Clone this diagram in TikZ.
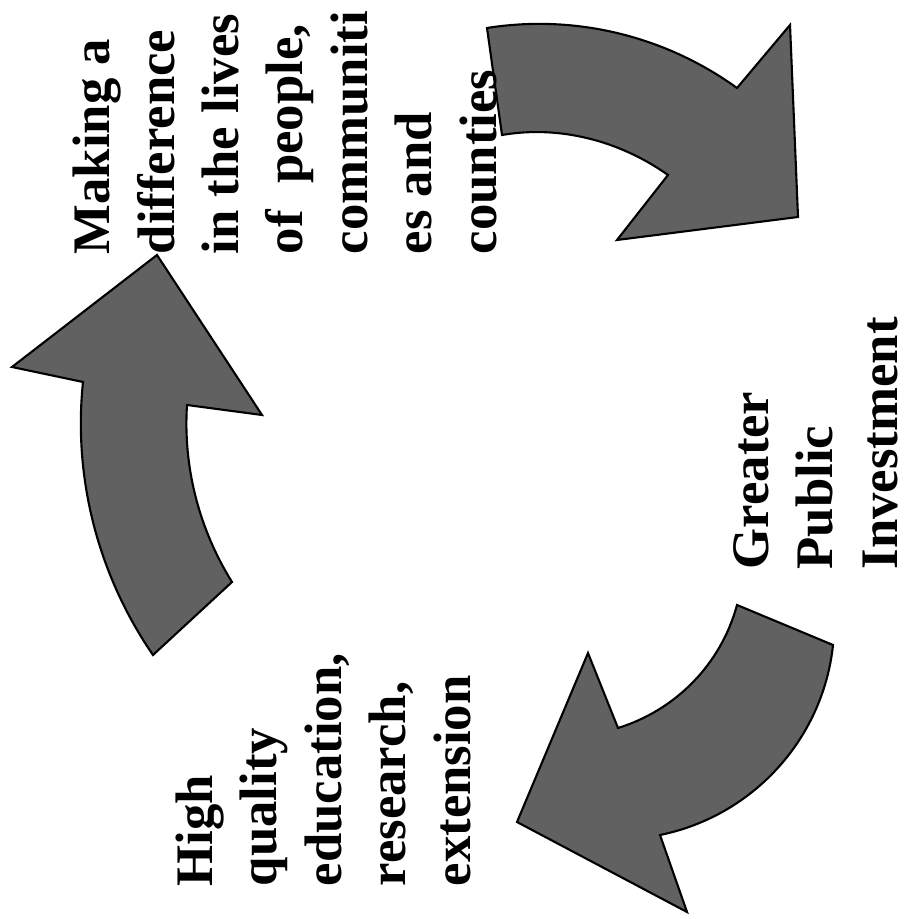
\documentclass[tikz,border=0pt]{standalone}
\usepackage{fontspec}
\setmainfont{Liberation Serif}
\usepackage{tikz}

\begin{document}
\begin{tikzpicture}[x=0.01cm, y=-0.01cm,
    cyclearrow/.style={draw=black, fill=black!62, line width=0.6pt, line join=miter},
    cyclelabel/.style={rotate=90, anchor=base west, inner sep=0pt, align=left,
      font=\bfseries\fontsize{15}{18.3}\selectfont}]
    \useasboundingbox (0,0) rectangle (906,919);

    % Left arrow, pointing up
    \filldraw[cyclearrow] (153,655) .. controls (98,575) and (73,478) .. (83,382)
        -- (12,367) -- (157,255) -- (262,415) -- (187,405)
        .. controls (183,467) and (199,529) .. (232,582) -- cycle;

    % Top arrow, pointing down right
    \filldraw[cyclearrow] (487,28) .. controls (575,14) and (665,36) .. (737,88)
        -- (790,25) -- (798,217) -- (617,240) -- (668,175)
        .. controls (620,141) and (560,125) .. (502,135) -- cycle;

    % Bottom arrow, pointing down left
    \filldraw[cyclearrow] (737,605) -- (833,645)
        .. controls (823,739) and (753,816) .. (660,835)
        -- (687,912) -- (517,822) -- (588,653) -- (618,728)
        .. controls (676,710) and (721,664) .. (737,605) -- cycle;

    % Labels (base = baseline of the last line)
    \node[cyclelabel] (making) at (496,255)
        {Making a\\difference\\in the lives\\of\ \ people,\\communiti\\es and\\counties};
    \node[cyclelabel] (quality) at (470,887)
        {High\\quality\\education,\\research,\\extension};
    \node[cyclelabel] (greater) at (897,570)
        {Greater\\Public\\Investment};
\end{tikzpicture}
\end{document}
